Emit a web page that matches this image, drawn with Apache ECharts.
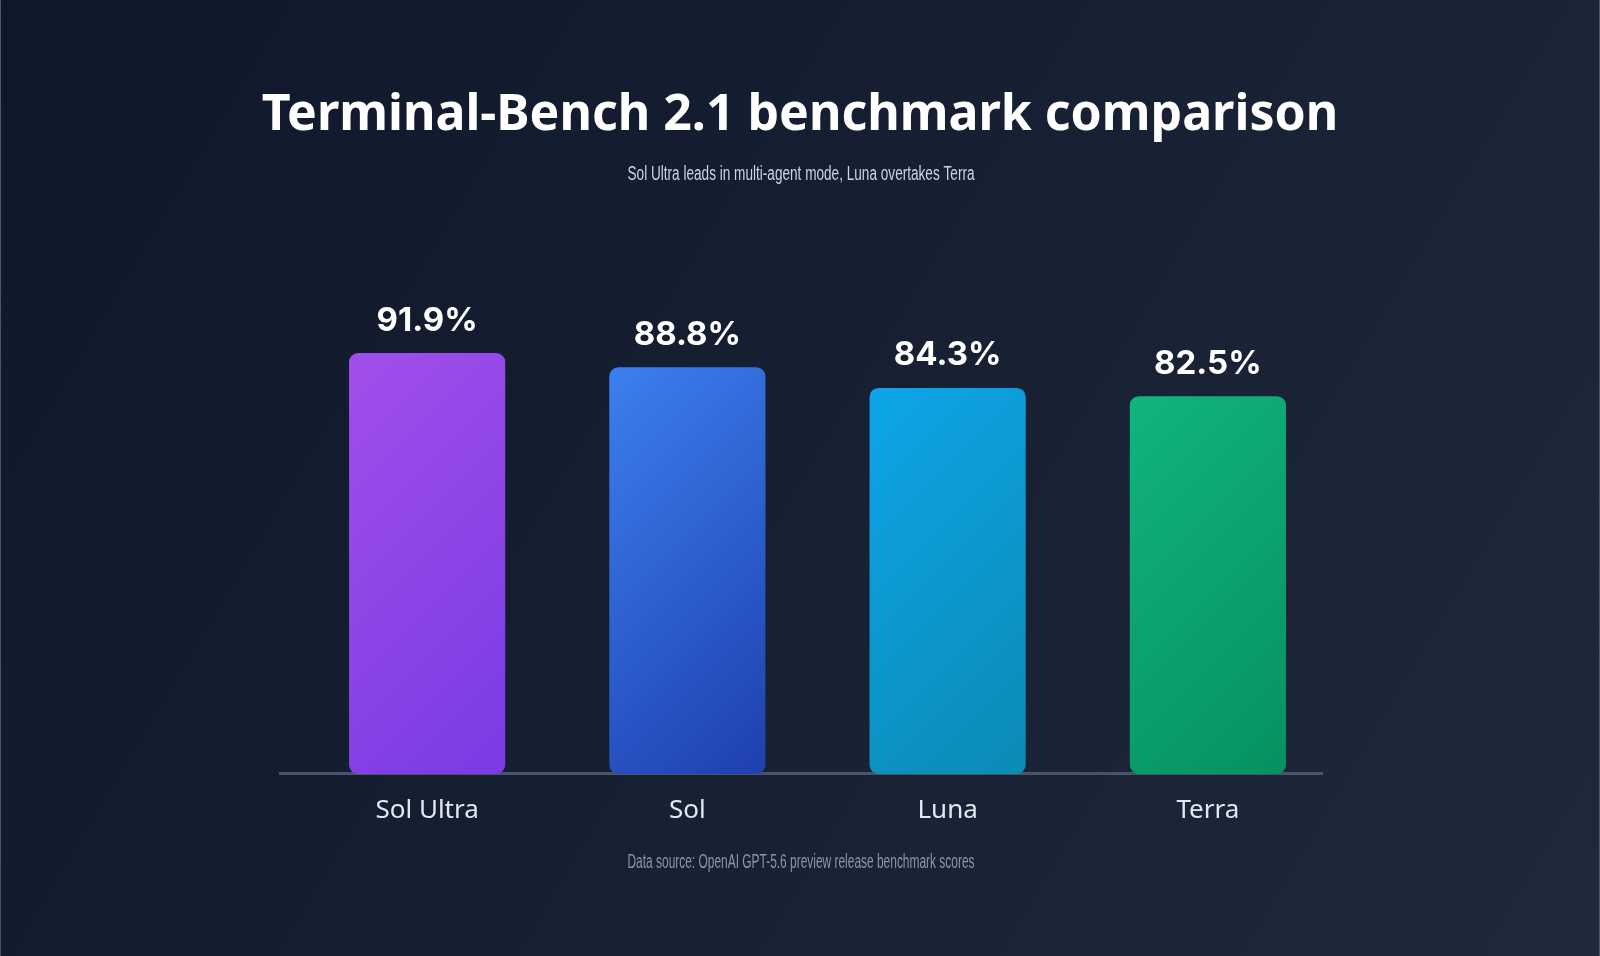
<!DOCTYPE html>
<html>
<head>
<meta charset="utf-8">
<title>Terminal-Bench 2.1 benchmark comparison</title>
<script src="https://cdn.jsdelivr.net/npm/echarts@6/dist/echarts.min.js"></script>
<style>
  html, body {margin: 0; padding: 0; background: #0f172a;}
  #chart {width: 1600px; height: 956px; box-sizing: border-box; border-left: 1px solid #4b5563; border-right: 1px solid #4b5563;}
</style>
</head>
<body>
<div id="chart"></div>
<script>
const models = ["Sol Ultra", "Sol", "Luna", "Terra"];
const scores = [91.9, 88.8, 84.3, 82.5];
const barColors = [
  ["#a14fea", "#7a3ae5"],
  ["#3b80ee", "#1f3fae"],
  ["#0ea5e9", "#0a8bb3"],
  ["#10b47f", "#05915f"],
];
const subtitle = "Sol Ultra leads in multi-agent mode, Luna overtakes Terra";
const footnote = "Data source: OpenAI GPT-5.6 preview release benchmark scores";

const MAIN_FONT = "'Noto Sans', sans-serif";
const NARROW_FONT = "20px 'Liberation Sans', Arial, sans-serif";

// the reference uses a condensed face; squeeze a normal one to the same width
function squeeze(text, font, targetWidth) {
  const ctx = document.createElement("canvas").getContext("2d");
  ctx.font = font;
  return targetWidth / ctx.measureText(text).width;
}

const chart = echarts.init(document.getElementById("chart"));

function barGradient(i, w, h) {
  // 135deg css style gradient: corner to corner at 45 degrees
  return new echarts.graphic.LinearGradient(0, 0, (w + h) / (2 * w), (w + h) / (2 * h), [
    {offset: 0, color: barColors[i][0]},
    {offset: 1, color: barColors[i][1]},
  ]);
}

const option = {
  animation: false,
  backgroundColor: new echarts.graphic.LinearGradient(0, 0, 1, 1, [
    {offset: 0, color: "#0f172a"},
    {offset: 1, color: "#1e293b"},
  ]),
  title: {
    text: "Terminal-Bench 2.1 benchmark comparison",
    left: "center",
    top: 86,
    textStyle: {color: "#ffffff", fontFamily: MAIN_FONT, fontWeight: "bold", fontSize: 50},
  },
  grid: {left: 296, right: 261, top: 316, bottom: 182},
  xAxis: {
    type: "category",
    data: models,
    axisLine: {show: false},
    axisTick: {show: false},
    axisLabel: {color: "#e2e8f0", fontFamily: MAIN_FONT, fontSize: 26, margin: 24},
  },
  yAxis: {
    type: "value",
    min: 0,
    max: 100,
    show: false,
    splitLine: {show: false},
  },
  graphic: [
    {
      type: "line",
      z: 0,
      shape: {x1: 278, y1: 773.5, x2: 1322, y2: 773.5},
      style: {stroke: "#475569", lineWidth: 3},
    },
    {
      type: "text",
      x: 800,
      y: 174,
      scaleX: squeeze(subtitle, NARROW_FONT, 347),
      style: {text: subtitle, font: NARROW_FONT, fill: "#cbd5e1", align: "center", verticalAlign: "middle"},
    },
    {
      type: "text",
      x: 800,
      y: 862,
      scaleX: squeeze(footnote, NARROW_FONT, 347),
      style: {text: footnote, font: NARROW_FONT, fill: "#8b95a7", align: "center", verticalAlign: "middle"},
    },
  ],
  series: [
    {
      type: "bar",
      z: 5,
      barWidth: "60%",
      data: scores.map((value, i) => ({value, itemStyle: {borderRadius: 9, color: barColors[i][0]}})),
      label: {
        show: true,
        position: "top",
        distance: 16,
        color: "#ffffff",
        fontFamily: "Inter, 'Noto Sans', sans-serif",
        fontWeight: "bold",
        fontSize: 33,
        formatter: p => p.value.toFixed(1) + "%",
      },
    },
  ],
};

chart.setOption(option);

// gradients need the bar's pixel size, which comes from the axes
const base = chart.convertToPixel({seriesIndex: 0}, [0, 0]);
const bandWidth = chart.convertToPixel({seriesIndex: 0}, [1, 0])[0] - base[0];
chart.setOption({
  series: [{
    data: scores.map((value, i) => {
      const top = chart.convertToPixel({seriesIndex: 0}, [i, value])[1];
      return {value, itemStyle: {borderRadius: 9, color: barGradient(i, bandWidth * 0.6, base[1] - top)}};
    }),
  }],
});
</script>
</body>
</html>
